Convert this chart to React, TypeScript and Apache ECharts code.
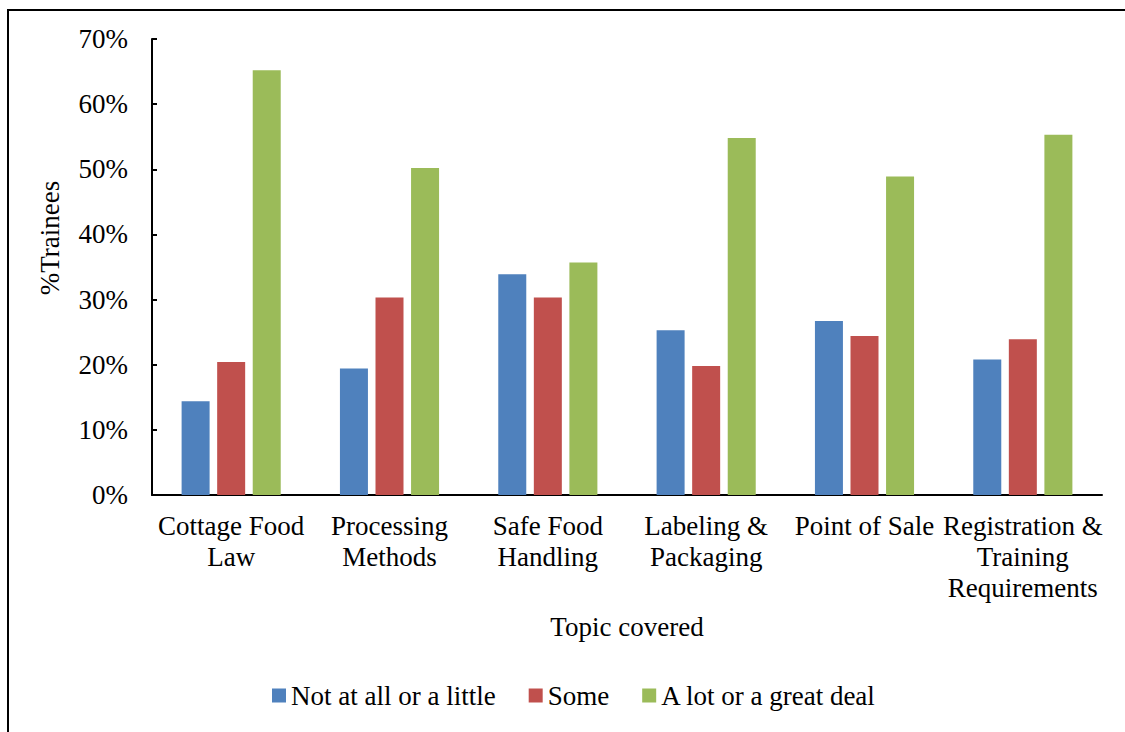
import React, { useEffect, useRef } from "react";
import * as echarts from "echarts";

// Topics covered in the training
const topics = [
  "Cottage Food\nLaw",
  "Processing\nMethods",
  "Safe Food\nHandling",
  "Labeling &\nPackaging",
  "Point of Sale",
  "Registration &\nTraining\nRequirements",
];

// Share of trainees (%) per response level
const notAtAll = [14.4, 19.4, 33.9, 25.3, 26.7, 20.8];
const some = [20.4, 30.3, 30.3, 19.8, 24.4, 23.9];
const aLot = [65.2, 50.2, 35.7, 54.8, 48.9, 55.3];

const seriesNames = ["Not at all or a little", "Some", "A lot or a great deal"];
const seriesColors = ["#4F81BD", "#C0504D", "#9BBB59"];

const FONT = "'Liberation Serif', 'Times New Roman', serif";
const FS = 27;

export default function App() {
  const ref = useRef<HTMLDivElement>(null);

  useEffect(() => {
    if (!ref.current) return;
    const chart = echarts.init(ref.current, undefined, { renderer: "svg" });
    const values = [notAtAll, some, aLot];

    chart.setOption({
      animation: false,
      backgroundColor: "#ffffff",
      textStyle: { fontFamily: FONT, color: "#000" },
      grid: { left: 152, right: 23, top: 39, bottom: 237, containLabel: false },
      legend: {
        left: 267,
        top: 677,
        icon: "rect",
        itemWidth: 14,
        itemHeight: 14,
        itemGap: 33,
        data: seriesNames,
        textStyle: { fontFamily: FONT, fontSize: FS, color: "#000" },
      },
      xAxis: {
        type: "category",
        data: topics,
        name: "Topic covered",
        nameLocation: "middle",
        nameGap: 118,
        nameTextStyle: { fontFamily: FONT, fontSize: FS, color: "#000" },
        axisLine: { lineStyle: { color: "#000", width: 2 } },
        axisTick: { inside: true, length: 7, lineStyle: { color: "#000", width: 2 } },
        axisLabel: {
          interval: 0,
          margin: 15,
          fontFamily: FONT,
          fontSize: FS,
          lineHeight: 31,
          color: "#000",
        },
      },
      yAxis: {
        type: "value",
        min: 0,
        max: 70,
        interval: 10,
        axisLine: { show: true, lineStyle: { color: "#000", width: 2 } },
        axisTick: { show: true, inside: true, length: 5, lineStyle: { color: "#000", width: 2 } },
        splitLine: { show: false },
        axisLabel: {
          formatter: "{value}%",
          margin: 24,
          fontFamily: FONT,
          fontSize: FS,
          color: "#000",
        },
      },
      series: seriesNames.map((name, i) => ({
        name,
        type: "bar",
        data: values[i],
        barWidth: 28,
        barGap: "27%",
        itemStyle: { color: seriesColors[i] },
      })),
      graphic: [
        {
          type: "rect",
          silent: true,
          shape: { x: 8, y: 10, width: 1300, height: 900 },
          style: { fill: "none", stroke: "#000", lineWidth: 2 },
        },
        {
          type: "text",
          x: 50,
          y: 238,
          rotation: Math.PI / 2,
          style: {
            text: "%Trainees",
            fontFamily: FONT,
            fontSize: FS,
            fill: "#000",
            textAlign: "center",
            textVerticalAlign: "middle",
          },
        },
      ],
    });

    return () => chart.dispose();
  }, []);

  return (
    <div
      ref={ref}
      style={{ position: "fixed", left: 0, top: 0, width: 1125, height: 732 }}
    />
  );
}
